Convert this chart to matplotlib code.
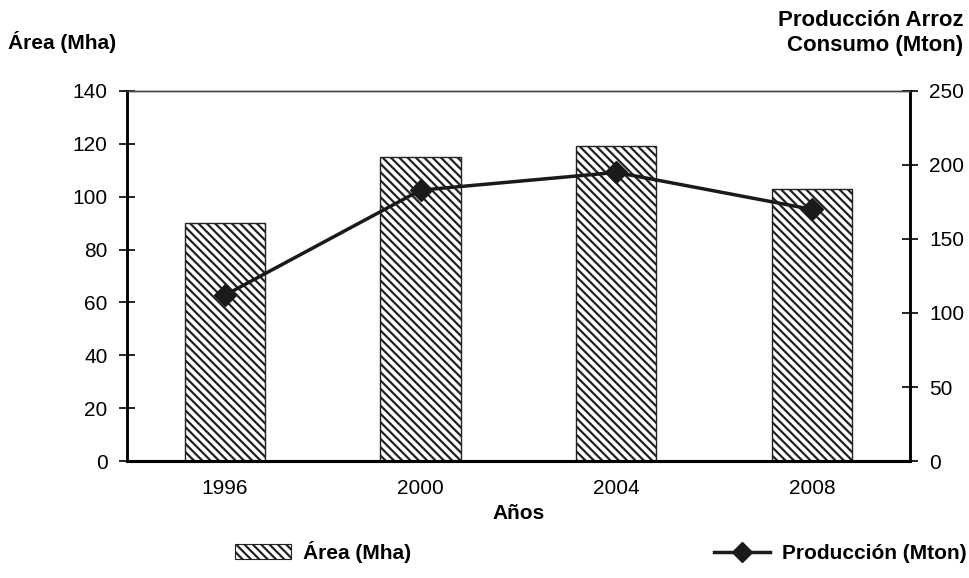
import numpy as np
import matplotlib.pyplot as plt
from matplotlib.lines import Line2D
from matplotlib.patches import Patch

plt.rcParams['font.family'] = ['Liberation Sans', 'DejaVu Sans']
plt.rcParams['hatch.linewidth'] = 1.6

# Datos
anios = ['1996', '2000', '2004', '2008']
area = [90, 115, 119, 103]          # Mha
produccion = [112, 183, 195, 170]   # Mton

x = np.arange(len(anios))
rayado = '\\\\\\\\'
fs = 15

fig = plt.figure(figsize=(9.69, 5.78), dpi=100)
ax = fig.add_axes([0.131, 0.2024, 0.808, 0.6402])
ax2 = ax.twinx()

# Barras de área
ax.bar(x, area, width=0.41, color='white', edgecolor='#222222',
       linewidth=1.0, hatch=rayado, zorder=2)
ax.set_xlim(-0.5, 3.5)
ax.set_ylim(0, 140)
ax.set_yticks(range(0, 141, 20))

# Línea de producción
ax2.plot(x, produccion, color='#1a1a1a', linewidth=2.5, marker='D',
         markersize=11, zorder=3)
ax2.set_ylim(0, 250)
ax2.set_yticks(range(0, 251, 50))

ax.set_xticks(x)
ax.set_xticklabels(anios)
ax.tick_params(axis='x', length=0, labelsize=fs, pad=13)
ax.tick_params(axis='y', direction='inout', length=12, width=1.2, labelsize=fs, pad=8)
ax2.tick_params(axis='y', direction='inout', length=12, width=1.2, labelsize=fs, pad=8)

for a in (ax, ax2):
    a.spines['left'].set_linewidth(1.8)
    a.spines['right'].set_linewidth(1.8)
    a.spines['bottom'].set_linewidth(2.2)
    a.spines['top'].set_linewidth(1.0)
    a.spines['top'].set_color('#444444')

ax.set_xlabel('Años', fontsize=fs, fontweight='bold', labelpad=4)

fig.text(0.008, 0.927, 'Área (Mha)', fontsize=fs, fontweight='bold',
         ha='left', va='center')
fig.text(0.994, 0.943, 'Producción Arroz\nConsumo (Mton)', fontsize=fs + 1,
         fontweight='bold', ha='right', va='center', linespacing=1.2)

# Leyenda
handles = [
    Patch(facecolor='white', edgecolor='#222222', hatch=rayado, linewidth=0.8),
    Line2D([0], [0], color='#1a1a1a', linewidth=2.5, marker='D', markersize=10),
]
fig.legend(handles, ['Área (Mha)', 'Producción (Mton)'], loc='center',
           bbox_to_anchor=(0.62, 0.045), ncol=2, frameon=False,
           columnspacing=14.5, handlelength=2.7, handletextpad=0.6,
           prop={'weight': 'bold', 'size': fs})

fig.savefig('out.png', dpi=100)
